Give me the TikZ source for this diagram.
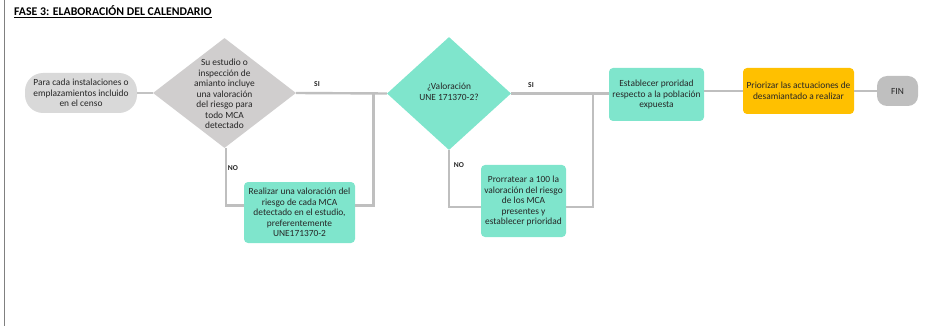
\documentclass[tikz,border=0pt]{standalone}
\usepackage{fontspec}
\setmainfont{Carlito}
\usepackage{xcolor}
\usetikzlibrary{shapes.geometric}

\definecolor{verdeMCA}{RGB}{127,229,204}
\definecolor{grisRombo}{RGB}{208,206,206}
\definecolor{grisInicio}{RGB}{217,217,217}
\definecolor{grisFin}{RGB}{191,191,191}
\definecolor{naranja}{RGB}{255,192,0}
\definecolor{grisLinea}{RGB}{191,191,191}

\begin{document}
\begin{tikzpicture}[x=1pt,y=1pt,yscale=-1,xscale=1,
  txt/.style={inner sep=0.5pt, align=center, font=\fontsize{9.4}{10.5}\selectfont, text=black!85},
  caja/.style={txt, rectangle, rounded corners=4pt, fill=verdeMCA},
  rombo/.style={diamond, inner sep=0pt},
  conector/.style={draw=grisLinea, line width=2.4pt},
  etiq/.style={inner sep=0.5pt, font=\fontsize{7.5}{8}\selectfont\bfseries, text=black!85}]
\useasboundingbox (0,0) rectangle (929,326);

%Straight Lines: borde izquierdo
\draw [draw=black!50, line width=1.2pt] (4.5,0) -- (4.5,326) ;

% Text Node: titulo
\node [anchor=west, inner sep=0pt, font=\fontsize{11.8}{13}\selectfont\bfseries] (titulo) at (14,12) {\underline{FASE 3: ELABORACIÓN DEL CALENDARIO}};

%Shape: inicio
\node [txt, rectangle, rounded corners=18pt, fill=grisInicio, minimum width=112pt, minimum height=40pt] (inicio) at (81,93) {Para cada instalaciones o\\emplazamientos incluido\\en el censo};

%Shape: Diamond 1
\node [rombo, fill=grisRombo, minimum width=143pt, minimum height=110pt] (rombo1) at (224.5,93) {};
\node [txt] (rombo1t) at (224.5,94) {Su estudio o\\inspección de\\amianto incluye\\una valoración\\del riesgo para\\todo MCA\\detectado};

%Shape: caja valoracion
\node [caja, minimum width=111pt, minimum height=61pt] (valorar) at (299.5,212.5) {Realizar una valoración del\\riesgo de cada MCA\\detectado en el estudio,\\preferentemente\\UNE171370-2};

%Shape: Diamond 2
\node [rombo, fill=verdeMCA, minimum width=124pt, minimum height=113pt] (rombo2) at (449,93.5) {};
\node [txt] (rombo2t) at (449,92) {¿Valoración\\UNE 171370-2?};

%Shape: caja prorratear
\node [caja, minimum width=85pt, minimum height=72pt] (prorratear) at (523.5,201) {Prorratear a 100 la\\valoración del riesgo\\de los MCA\\presentes y\\establecer prioridad};

%Shape: caja establecer
\node [caja, minimum width=95pt, minimum height=53pt] (establecer) at (656.5,94.5) {Establecer proridad\\respecto a la población\\expuesta};

%Shape: caja priorizar
\node [caja, fill=naranja, minimum width=111pt, minimum height=46pt] (priorizar) at (798.5,91) {Priorizar las actuaciones de\\desamiantado a realizar};

%Shape: fin
\node [txt, rectangle, rounded corners=10pt, fill=grisFin, minimum width=41pt, minimum height=30pt] (fin) at (897.5,91) {FIN};

% puntos de union
\coordinate (union1) at (373.5,93) ;
\coordinate (union2) at (593,93) ;

%Straight Lines
\draw [conector, line width=1.4pt, draw=grisInicio!90!black] (inicio.east) -- (rombo1.west) ;
\draw [conector] (rombo1.east) -- (rombo2.west) ;
\draw [conector] (rombo1.south) ++(1.5,0) |- ([yshift=-7pt]valorar.west) ;
\draw [conector] ([yshift=-7pt]valorar.east) -| (union1) ;
\draw [conector] (rombo2.east) -- (establecer.west |- rombo2.east) ;
\draw [conector] (rombo2.south) |- ([yshift=6pt]prorratear.west) ;
\draw [conector] ([yshift=6pt]prorratear.east) -| (union2) ;
\draw [conector] (establecer.east |- priorizar.west) -- (priorizar.west) ;
\draw [conector] (priorizar.east) -- (fin.west) ;

% Text Node: etiquetas
\node [etiq] (si1) at (317,84) {SI};
\node [etiq] (no1) at (233,168) {NO};
\node [etiq] (si2) at (531,85) {SI};
\node [etiq] (no2) at (459,165) {NO};

\end{tikzpicture}
\end{document}
